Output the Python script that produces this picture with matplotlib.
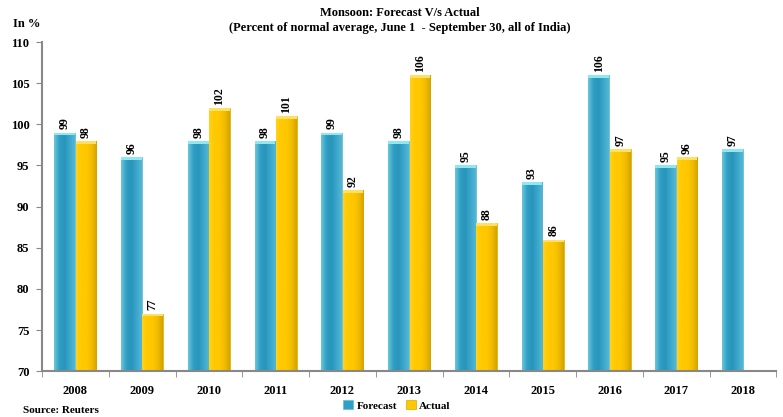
import matplotlib
matplotlib.use("Agg")
import matplotlib.pyplot as plt
import numpy as np
from matplotlib.colors import LinearSegmentedColormap

years = ["2008", "2009", "2010", "2011", "2012", "2013", "2014", "2015", "2016", "2017", "2018"]
forecast = [99, 96, 98, 98, 99, 98, 95, 93, 106, 95, 97]
actual = [98, 77, 102, 101, 92, 106, 88, 86, 97, 96]

plt.rcParams['font.family'] = ['Liberation Serif', 'DejaVu Serif']
plt.rcParams['font.weight'] = 'bold'

fig = plt.figure(figsize=(7.83, 4.17), dpi=100)
ax = fig.add_axes([0.0536, 0.110, 0.938, 0.789])

x = np.arange(len(years))
w = 0.31
off = 0.16
fc = "#2f9fc4"
ac = "#ffc800"

fbars = ax.bar(x - off, forecast, width=w, bottom=0, color=fc, edgecolor="#5fc0d8", linewidth=0.5, zorder=2)
abars = ax.bar(x[:len(actual)] + off, actual, width=w, bottom=0, color=ac, edgecolor="#d9a800", linewidth=0.5, zorder=2)

ax.set_ylim(70, 110)
ax.set_xlim(-0.5, len(years) - 0.5)

# horizontal gradient shading clipped to bars
cmap_f = LinearSegmentedColormap.from_list("f", ["#6cc6dc", "#2f9fc4", "#2a95ba", "#3aa7cc", "#5ab6d2"])
cmap_a = LinearSegmentedColormap.from_list("a", ["#ffd21a", "#ffc800", "#ffc800", "#f2bc00", "#d4a300"])
grad = np.linspace(0, 1, 64).reshape(1, -1)
for bars, cm in ((fbars, cmap_f), (abars, cmap_a)):
    for b in bars:
        x0 = b.get_x()
        ww = b.get_width()
        h = b.get_height()
        im = ax.imshow(grad, cmap=cm, aspect="auto", extent=(x0, x0 + ww, 70, h), zorder=2.5)
        im.set_clip_path(b)
        cap = "#8ee8f2" if cm is cmap_f else "#ffe066"
        ax.bar(x0 + ww / 2, 0.35, width=ww, bottom=h - 0.35, color=cap, zorder=2.6, linewidth=0)

for xi, v in zip(x - off, forecast):
    ax.text(xi, v + 0.4, str(v), rotation=90, ha="center", va="bottom", fontsize=8.5, fontweight="bold")
for xi, v in zip(x[:len(actual)] + off, actual):
    ax.text(xi, v + 0.4, str(v), rotation=90, ha="center", va="bottom", fontsize=8.5, fontweight="bold")

ax.set_yticks(np.arange(70, 111, 5))
ax.set_yticklabels([str(v) for v in range(70, 111, 5)], fontsize=9, fontweight="bold")
ax.set_xticks(x)
ax.set_xticklabels(years, fontsize=9, fontweight="bold")
ax.tick_params(axis="x", which="major", length=0, pad=10)
ax.set_xticks(np.arange(-0.5, len(years), 1), minor=True)
ax.tick_params(axis="x", which="minor", length=4, color="#888888", direction="out")
ax.tick_params(axis="y", length=4, color="#888888", direction="out", pad=5)

for s in ("top", "right"):
    ax.spines[s].set_visible(False)
for s in ("left", "bottom"):
    ax.spines[s].set_color("#888888")
    ax.spines[s].set_linewidth(1.5)

fig.text(0.511, 0.968, "Monsoon: Forecast V/s Actual", ha="center", va="center", fontsize=9, fontweight="bold")
fig.text(0.511, 0.932, "(Percent of normal average, June 1  - September 30, all of India)", ha="center", va="center", fontsize=9, fontweight="bold")
fig.text(0.016, 0.943, "In %", ha="left", va="center", fontsize=9, fontweight="bold")
fig.text(0.029, 0.016, "Source: Reuters", ha="left", va="center", fontsize=8, fontweight="bold")

leg = fig.legend([fbars, abars], ["Forecast", "Actual"], loc="center", bbox_to_anchor=(0.507, 0.028),
                 ncol=2, frameon=False, fontsize=8, handlelength=0.9, handleheight=0.9,
                 handletextpad=0.3, columnspacing=0.8)

fig.savefig("out.png", dpi=100)
